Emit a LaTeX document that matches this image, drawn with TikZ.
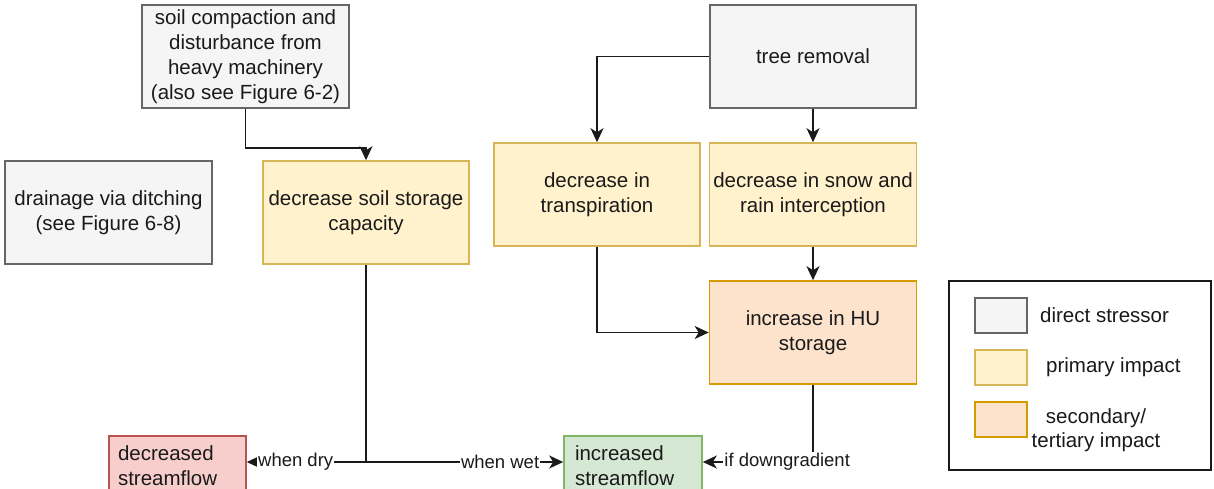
\documentclass[tikz,border=0pt]{standalone}
\usepackage{fontspec}
\setmainfont{Liberation Sans}
\usetikzlibrary{arrows.meta}
\definecolor{grayfill}{HTML}{F5F5F5}
\definecolor{graystroke}{HTML}{666666}
\definecolor{yelfill}{HTML}{FFF2CC}
\definecolor{yelstroke}{HTML}{D6B656}
\definecolor{orfill}{HTML}{FDE2CC}
\definecolor{orstroke}{HTML}{D79B00}
\definecolor{redfill}{HTML}{F8CECC}
\definecolor{redstroke}{HTML}{B85450}
\definecolor{grnfill}{HTML}{D5E8D4}
\definecolor{grnstroke}{HTML}{82B366}
\definecolor{txt}{HTML}{1A1A1A}
\definecolor{linec}{HTML}{1A1A1A}
\tikzset{
  basebox/.style={draw, line width=1.6pt, align=center, inner sep=0pt, text=txt,
    font=\fontsize{20.5}{25}\selectfont},
  graybox/.style={basebox, fill=grayfill, draw=graystroke},
  yelbox/.style={basebox, fill=yelfill, draw=yelstroke},
  orbox/.style={basebox, fill=orfill, draw=orstroke},
  redbox/.style={basebox, fill=redfill, draw=redstroke, align=left, inner xsep=9pt, text width=119pt},
  grnbox/.style={basebox, fill=grnfill, draw=grnstroke, align=left, inner xsep=11pt, text width=116pt},
  conn/.style={draw=linec, line width=1.8pt, -{Stealth[length=14pt,width=13pt,inset=4pt]}},
  plainline/.style={draw=linec, line width=1.8pt},
  lbl/.style={fill=white, inner sep=1pt, text=txt, font=\fontsize{18.5}{22}\selectfont},
  legtext/.style={inner sep=0pt, text=txt, font=\fontsize{20.5}{24}\selectfont},
}
\begin{document}
\begin{tikzpicture}[x=1pt,y=-1pt]
\useasboundingbox (0,0) rectangle (1214,488);
\fill[white] (0,0) rectangle (1214,488);

\node[graybox, minimum width=207pt, minimum height=103pt] (soil) at (245.5,56.5)
  {soil compaction and\\disturbance from\\heavy machinery\\(also see Figure 6-2)};
\node[graybox, minimum width=207pt, minimum height=103pt] (drain) at (108.5,212.5)
  {drainage via ditching\\(see Figure 6-8)};
\node[yelbox, minimum width=206pt, minimum height=103pt] (storage) at (366,212.5)
  {decrease soil storage\\capacity};
\node[yelbox, minimum width=206pt, minimum height=103pt] (transp) at (597,194.5)
  {decrease in\\transpiration};
\node[graybox, minimum width=206pt, minimum height=103pt] (tree) at (813,56.5)
  {tree removal};
\node[yelbox, minimum width=207pt, minimum height=103pt] (snow) at (813,194.5)
  {decrease in snow and\\rain interception};
\node[orbox, minimum width=207pt, minimum height=103pt] (hu) at (813,332.5)
  {increase in HU\\storage};
\node[redbox, minimum width=137pt, minimum height=60pt] (dec) at (177.5,466)
  {decreased\\streamflow};
\node[grnbox, minimum width=138pt, minimum height=60pt] (inc) at (633,466)
  {increased\\streamflow};

\coordinate (j) at (366,462);

\draw[conn] (soil.south) -- ++(0,39) -| (storage.north);
\draw[conn] (tree.west) -| (transp.north);
\draw[conn] (tree.south) -- (snow.north);
\draw[conn] (snow.south) -- (hu.north);
\draw[conn] (transp.south) |- (hu.west);
\draw[plainline] (storage.south) -- (j);
\draw[conn] (j) -- node[lbl, pos=0.59] {when dry} (dec.east |- j);
\draw[conn] (j) -- node[lbl, pos=0.68] {when wet} (inc.west |- j);
\draw[conn] (hu.south) |- node[lbl, pos=0.617] {if downgradient} (inc.east |- j);

% legend
\node[draw=linec, line width=1.6pt, minimum width=262pt, minimum height=189pt, inner sep=0pt] (legend) at (1080,375.5) {};
\node[graybox, minimum width=52pt, minimum height=35pt] (lg1) at (1001,315.5) {};
\node[yelbox, minimum width=52pt, minimum height=35pt] (lg2) at (1001,367.5) {};
\node[orbox, minimum width=52pt, minimum height=35pt] (lg3) at (1001,419.5) {};
\node[legtext, anchor=west] (lt1) at (1040,315.5) {direct stressor};
\node[legtext, anchor=west] (lt2) at (1046,367) {primary impact};
\node[legtext, align=center] (lt3) at (1096,430) {secondary/\\tertiary impact};
\end{tikzpicture}
\end{document}
